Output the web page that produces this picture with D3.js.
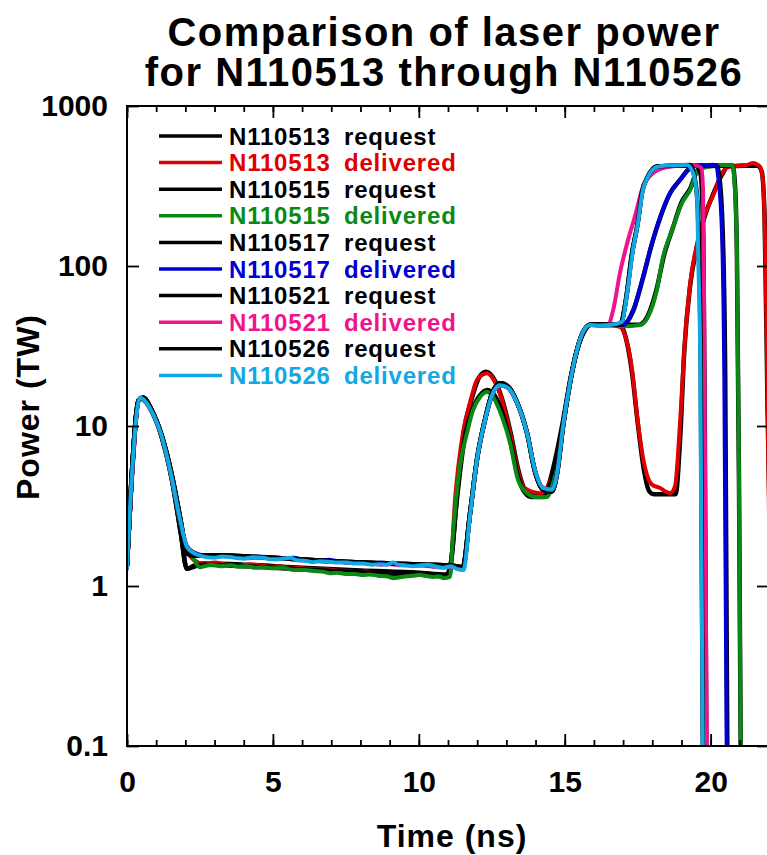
<!DOCTYPE html>
<html>
<head>
<meta charset="utf-8">
<script src="https://cdn.jsdelivr.net/npm/d3@7"></script>
<style>
    body { margin: 0; background: #fff; }
    svg text { font-family: "Liberation Sans", Arial, Helvetica, sans-serif; font-weight: bold; }
</style>
</head>
<body>
<div id="chart"></div>
<script>
// [time (ns), power (TW)]
const n110513Request = [
    [0,1.35],[0.15,4.5],[0.4,14.5],[0.55,15],[0.85,12.5],[1.2,8.4],[1.55,4.5],[1.85,2.1],[2.05,1.28],[2.3,1.34],
    [2.6,1.38],[4,1.36],[6,1.3],[8,1.25],[10,1.21],[10.95,1.18],[11.1,1.4],[11.3,3.6],[11.55,9.4],[11.8,14.5],
    [12.05,19.8],[12.3,21.8],[12.55,20],[12.85,14.8],[13.15,9],[13.4,5.4],[13.6,4.1],[13.8,3.75],[14.2,3.75],[14.45,4.3],
    [14.7,6.5],[14.95,11],[15.2,20],[15.45,31],[15.7,40],[15.9,43],[16.9,43],[17.05,38],[17.3,22],[17.5,10.5],
    [17.7,5.5],[17.9,3.9],[18.05,3.75],[18.8,3.75],[18.95,8],[19.1,30],[19.3,76],[19.55,136],[19.8,205],[20.1,285],
    [20.4,375],[20.6,420],[21.6,425],[21.75,390],[21.85,200],[21.95,13],[22.1,0.5]
];
const n110513Delivered = [
    [0,1.3],[0.15,4.2],[0.45,15],[0.85,12.3],[1.2,8.6],[1.53,4.8],[1.82,2.6],[2.05,1.7],[2.3,1.45],[2.6,1.38],
    [3.0,1.4],[3.4,1.36],[3.8,1.34],[4.2,1.37],[4.5,1.35],[4.9,1.32],[5.2,1.33],[5.6,1.3],[5.9,1.3],[6.2,1.28],
    [6.5,1.27],[6.9,1.27],[7.2,1.25],[7.6,1.24],[7.9,1.22],[8.2,1.23],[8.5,1.2],[8.9,1.2],[9.2,1.18],[9.5,1.19],
    [9.8,1.17],[10.1,1.18],[10.4,1.16],[10.7,1.15],[10.95,1.13],[11.07,1.2],[11.24,3.45],[11.51,9.0],[11.75,13.9],[11.99,19.4],
    [12.2,21],[12.34,21.4],[12.61,18.8],[12.85,14.5],[13.13,9.0],[13.37,5.5],[13.57,4.2],[13.91,3.87],[14.2,3.8],[14.45,4.3],
    [14.74,6],[14.94,9.9],[15.18,18.6],[15.42,29.9],[15.63,38.7],[15.87,42.8],[16.2,42.5],[16.55,42.8],[16.89,41.6],[17.14,33],
    [17.31,22.4],[17.51,10.4],[17.75,5.5],[17.99,4.3],[18.27,4.1],[18.45,3.9],[18.61,3.8],[18.78,4.2],[18.95,10.4],[19.12,34.5],
    [19.3,78],[19.54,139],[19.77,202],[20.12,286],[20.39,381],[20.63,416],[21.0,425],[21.25,428],[21.45,440],[21.69,416],
    [21.8,330],[21.93,30],[22.05,0.5]
];
const n110515Request = [
    [0,1.35],[0.15,4.5],[0.4,14.5],[0.55,15],[0.85,12.5],[1.2,8.4],[1.55,4.5],[1.85,2.1],[2.05,1.28],[2.3,1.32],
    [2.6,1.36],[4,1.33],[6,1.27],[8,1.22],[10,1.18],[10.95,1.15],[11.1,1.4],[11.3,3.4],[11.6,9],[11.85,12.8],
    [12.1,15.6],[12.35,16.8],[12.6,15.5],[12.9,11.5],[13.15,7.8],[13.4,4.8],[13.65,3.8],[13.85,3.6],[14.3,3.6],[14.5,4.3],
    [14.75,6.5],[14.95,10.5],[15.2,19.5],[15.45,31],[15.7,40],[15.9,43],[17.55,43],[17.85,49],[18.15,72],[18.4,116],
    [18.7,172],[19.0,250],[19.3,305],[19.55,395],[19.8,420],[20.75,425],[20.83,330],[20.9,120],[20.97,5],[21.04,0.05]
];
const n110515Delivered = [
    [0,1.3],[0.15,4.2],[0.45,14.8],[0.85,12.2],[1.2,8.5],[1.53,4.7],[1.82,2.5],[2.05,1.65],[2.26,1.5],[2.5,1.31],
    [2.9,1.36],[3.2,1.33],[3.53,1.35],[3.8,1.32],[4.1,1.33],[4.4,1.3],[4.66,1.31],[5.0,1.29],[5.3,1.3],[5.6,1.27],
    [5.83,1.26],[6.1,1.26],[6.4,1.24],[6.7,1.23],[6.96,1.2],[7.2,1.21],[7.5,1.19],[7.8,1.19],[8.09,1.17],[8.3,1.18],
    [8.6,1.16],[8.9,1.15],[9.12,1.12],[9.4,1.14],[9.6,1.15],[9.8,1.16],[10.04,1.17],[10.3,1.15],[10.5,1.14],[10.7,1.15],
    [10.83,1.12],[11.07,1.14],[11.17,2.1],[11.4,5.5],[11.65,9.0],[11.86,12.6],[12.1,15.2],[12.34,16.3],[12.54,15.2],[12.85,11.4],
    [13.13,7.8],[13.4,4.6],[13.71,3.8],[14.0,3.6],[14.39,3.6],[14.6,4.4],[14.8,6.2],[14.94,9.9],[15.18,18.6],[15.42,29.9],
    [15.63,38.7],[15.87,42.8],[16.55,42.8],[17.0,42],[17.58,42.8],[17.85,48],[18.16,71],[18.37,114],[18.68,168],[19.02,248],
    [19.3,299],[19.57,398],[19.88,416],[20.3,428],[20.75,425],[20.82,330],[20.9,126],[20.97,5],[21.04,0.05]
];
const n110517Request = [
    [0,1.35],[0.15,4.5],[0.4,14.5],[0.55,15],[0.85,12.5],[1.2,8.6],[1.55,4.8],[1.85,2.5],[2.05,1.6],[2.3,1.55],
    [3,1.55],[5,1.5],[7,1.43],[9,1.38],[11.3,1.33],[11.5,1.3],[11.75,2.8],[12.0,6.3],[12.27,11],[12.54,16.5],
    [12.8,18.5],[13.06,17.6],[13.37,14],[13.71,9],[13.98,5.2],[14.26,4],[14.56,3.9],[14.74,5.1],[14.94,9.9],[15.18,18.6],
    [15.42,29.9],[15.63,38.7],[15.87,43],[17.0,43],[17.34,52],[17.68,84],[17.99,138],[18.27,200],[18.61,285],[18.95,345],
    [19.3,410],[19.6,425],[20.2,425],[20.3,360],[20.42,150],[20.5,20],[20.58,0.05]
];
const n110517Delivered = [
    [0,1.3],[0.15,4.2],[0.45,15],[0.85,12.3],[1.19,8.6],[1.53,4.8],[1.82,2.6],[2.05,1.78],[2.3,1.62],[2.5,1.57],
    [3.0,1.53],[3.3,1.56],[3.6,1.54],[3.9,1.51],[4.2,1.5],[4.5,1.53],[4.8,1.52],[5.1,1.49],[5.4,1.48],[5.7,1.5],
    [6.0,1.47],[6.3,1.45],[6.6,1.44],[6.9,1.46],[7.2,1.43],[7.5,1.41],[7.8,1.41],[8.1,1.4],[8.4,1.38],[8.7,1.4],
    [9.0,1.39],[9.3,1.37],[9.6,1.36],[9.9,1.37],[10.2,1.35],[10.5,1.33],[10.8,1.32],[11.2,1.34],[11.5,1.28],[11.75,2.7],
    [11.99,6.1],[12.27,10.9],[12.54,16.1],[12.78,18.0],[13.06,17.3],[13.37,13.9],[13.71,9.0],[13.98,5.3],[14.26,4.1],[14.56,4.0],
    [14.74,5.1],[14.94,9.9],[15.18,18.6],[15.42,29.9],[15.63,38.7],[15.87,42.8],[16.5,42.5],[17.0,43],[17.34,53],[17.68,85],
    [17.99,139],[18.27,202],[18.61,286],[18.95,345],[19.3,410],[19.64,428],[19.9,425],[20.08,430],[20.2,420],[20.26,360],
    [20.39,161],[20.47,20],[20.56,0.05]
];
const n110521Request = [
    [0,1.35],[0.15,4.5],[0.4,14.5],[0.55,15],[0.85,12.5],[1.2,8.6],[1.55,4.8],[1.85,2.5],[2.05,1.6],[2.3,1.55],
    [3,1.55],[5,1.5],[7,1.43],[9,1.38],[11.3,1.33],[11.5,1.3],[11.75,2.8],[12.0,6.3],[12.27,11],[12.54,16.5],
    [12.8,18.5],[13.06,17.6],[13.37,14],[13.71,9],[13.98,5.2],[14.26,4],[14.56,3.9],[14.74,5.1],[14.94,9.9],[15.18,18.6],
    [15.42,29.9],[15.63,38.7],[15.87,43],[16.9,43],[17.1,62],[17.3,118],[17.5,185],[17.65,290],[17.85,362],[18.15,418],
    [19.5,425],[19.65,380],[19.75,150],[19.8,10],[19.86,0.05]
];
const n110521Delivered = [
    [0,1.28],[0.15,4.0],[0.45,14.8],[0.85,12.3],[1.19,8.6],[1.53,4.8],[1.82,2.6],[2.05,1.76],[2.3,1.6],[2.5,1.55],
    [3.0,1.52],[3.3,1.54],[3.6,1.53],[3.9,1.5],[4.2,1.49],[4.5,1.52],[4.8,1.5],[5.1,1.47],[5.4,1.49],[5.7,1.46],
    [6.0,1.45],[6.3,1.46],[6.6,1.43],[6.9,1.42],[7.2,1.42],[7.5,1.4],[7.8,1.4],[8.1,1.39],[8.4,1.38],[8.7,1.36],
    [9.0,1.37],[9.3,1.35],[9.6,1.35],[9.9,1.34],[10.2,1.34],[10.5,1.32],[10.8,1.31],[11.2,1.32],[11.5,1.27],[11.75,2.7],
    [11.99,6.0],[12.27,10.8],[12.54,16.0],[12.78,17.9],[13.06,17.3],[13.37,13.9],[13.71,9.0],[13.98,5.3],[14.26,4.1],[14.56,4.0],
    [14.74,5.1],[14.94,9.9],[15.18,18.6],[15.42,29.9],[15.63,38.7],[15.87,42.8],[16.2,42.8],[16.48,43],[16.66,53],[16.89,90],
    [17.14,139],[17.4,202],[17.68,312],[18.03,381],[18.51,416],[19.19,428],[19.5,425],[19.68,410],[19.74,300],[19.78,40],
    [19.82,2],[19.88,0.05]
];
const n110526Request = [
    [0,1.35],[0.15,4.5],[0.4,14.5],[0.55,15],[0.85,12.5],[1.2,8.6],[1.55,4.8],[1.85,2.5],[2.05,1.6],[2.3,1.55],
    [3,1.55],[5,1.5],[7,1.43],[9,1.38],[11.3,1.33],[11.5,1.3],[11.75,2.8],[12.0,6.3],[12.27,11],[12.54,16.5],
    [12.8,18.5],[13.06,17.6],[13.37,14],[13.71,9],[13.98,5.2],[14.26,4],[14.56,3.9],[14.74,5.1],[14.94,9.9],[15.18,18.6],
    [15.42,29.9],[15.63,38.7],[15.87,43],[16.9,43],[17.1,62],[17.3,118],[17.5,185],[17.65,290],[17.85,362],[18.15,418],
    [19.3,428],[19.42,380],[19.55,250],[19.6,120],[19.66,25],[19.74,0.05]
];
const n110526Delivered = [
    [0,1.3],[0.12,3.5],[0.45,15],[0.85,12.3],[1.19,8.6],[1.53,4.8],[1.82,2.6],[2.05,1.76],[2.3,1.6],[2.5,1.55],
    [3.0,1.5],[3.25,1.53],[3.53,1.52],[3.8,1.49],[4.0,1.48],[4.3,1.51],[4.66,1.5],[4.9,1.47],[5.2,1.47],[5.59,1.5],
    [5.83,1.45],[6.1,1.44],[6.37,1.41],[6.6,1.43],[6.9,1.42],[7.2,1.4],[7.54,1.4],[7.8,1.38],[8.09,1.38],[8.4,1.36],
    [8.67,1.37],[8.9,1.36],[9.12,1.4],[9.3,1.36],[9.5,1.35],[9.8,1.33],[10.05,1.35],[10.3,1.36],[10.6,1.32],[10.83,1.3],
    [11.1,1.33],[11.3,1.28],[11.53,1.26],[11.75,2.7],[11.99,6.1],[12.27,10.9],[12.54,16.1],[12.78,18.0],[13.06,17.3],[13.37,13.9],
    [13.71,9.0],[13.98,5.3],[14.26,4.1],[14.56,4.0],[14.74,5.1],[14.94,9.9],[15.18,18.6],[15.42,29.9],[15.63,38.7],[15.87,42.8],
    [16.2,42.5],[16.55,42.8],[16.96,44.7],[17.14,67.8],[17.34,126],[17.51,186],[17.68,299],[17.85,360],[18.16,416],[18.51,425],
    [19.19,428],[19.4,381],[19.54,258],[19.57,126],[19.64,30],[19.74,0.05]
];

const shotNames = ["N110513", "N110515", "N110517", "N110521", "N110526"];
const deliveredColors = ["#e00000", "#0a8a14", "#0000d2", "#f0148c", "#12a8e4"];
const requestData = [n110513Request, n110515Request, n110517Request, n110521Request, n110526Request];
const deliveredData = [n110513Delivered, n110515Delivered, n110517Delivered, n110521Delivered, n110526Delivered];

const xMajorTicks = [0, 5, 10, 15, 20];
const xMinorTicks = [0, 1, 2, 3, 4, 5, 6, 7, 8, 9, 10, 11, 12, 13, 14, 15, 16, 17, 18, 19, 20, 21, 22];
const yTicks = [0.1, 1, 10, 100, 1000];
const yTickLabels = ["0.1", "1", "10", "100", "1000"];

class LaserPowerChart {
    constructor(parentElement) {
        this.parentElement = parentElement;

        // legend order: request then delivered for each shot
        this.series = [];
        shotNames.forEach((name, i) => {
            this.series.push({ shot: name, kind: "request", color: "#000", values: requestData[i] });
            this.series.push({ shot: name, kind: "delivered", color: deliveredColors[i], values: deliveredData[i] });
        });

        this.initVis();
    }

    initVis() {
        let vis = this;

        vis.margin = { top: 106, right: -2, bottom: 109, left: 127 };
        vis.width = 767 - vis.margin.left - vis.margin.right;
        vis.height = 855 - vis.margin.top - vis.margin.bottom;

        vis.root = d3.select("#" + vis.parentElement).append("svg")
            .attr("width", 767)
            .attr("height", 855);

        vis.svg = vis.root.append("g")
            .attr("transform", `translate(${vis.margin.left}, ${vis.margin.top})`);

        vis.x = d3.scaleLinear().domain([0, 22]).range([0, vis.width]);
        vis.y = d3.scaleLog().domain([0.1, 1000]).range([vis.height, 0]);

        vis.svg.append("clipPath").attr("id", "plotClip")
            .append("rect")
            .attr("width", vis.width)
            .attr("height", vis.height);

        // title, two lines
        vis.root.append("text")
            .attr("x", 444).attr("y", 46)
            .attr("text-anchor", "middle")
            .style("font-size", "40px")
            .style("letter-spacing", "1.5px")
            .text("Comparison of laser power");
        vis.root.append("text")
            .attr("x", 444).attr("y", 86)
            .attr("text-anchor", "middle")
            .style("font-size", "40px")
            .style("letter-spacing", "1.5px")
            .text("for N110513 through N110526");

        // axis titles
        vis.root.append("text")
            .attr("x", 452).attr("y", 847)
            .attr("text-anchor", "middle")
            .style("font-size", "32px")
            .style("letter-spacing", "1px")
            .text("Time (ns)");
        vis.root.append("text")
            .attr("transform", "translate(39, 407) rotate(-90)")
            .attr("text-anchor", "middle")
            .style("font-size", "32px")
            .style("letter-spacing", "1px")
            .text("Power (TW)");

        vis.line = d3.line()
            .x(d => vis.x(d[0]))
            .y(d => vis.y(d[1]))
            .curve(d3.curveMonotoneX);

        vis.updateVis();
    }

    updateVis() {
        let vis = this;

        vis.svg.append("g")
            .attr("clip-path", "url(#plotClip)")
            .selectAll(".trace")
            .data(vis.series)
            .join("path")
            .attr("class", "trace")
            .attr("d", d => vis.line(d.values))
            .attr("fill", "none")
            .attr("stroke", d => d.color)
            .attr("stroke-width", d => d.kind === "request" ? 4.5 : 4)
            .attr("stroke-linejoin", "round")
            .attr("stroke-linecap", "round");

        // axes: ticks point inward
        let styleAxis = g => {
            g.select(".domain").remove();
            g.selectAll("line").attr("stroke", "#000").attr("stroke-width", 1.8);
            g.selectAll("text").style("font-size", "30px").attr("fill", "#000");
        };

        vis.svg.append("g")
            .attr("transform", `translate(0, ${vis.height})`)
            .call(d3.axisBottom(vis.x).tickValues(xMinorTicks).tickSize(-6).tickFormat(""))
            .call(styleAxis);
        vis.svg.append("g")
            .attr("transform", `translate(0, ${vis.height})`)
            .call(d3.axisBottom(vis.x).tickValues(xMajorTicks).tickSize(-12).tickPadding(25).tickFormat(d3.format("d")))
            .call(styleAxis);
        vis.svg.append("g")
            .call(d3.axisTop(vis.x).tickValues(xMinorTicks).tickSize(-6).tickFormat(""))
            .call(styleAxis);
        vis.svg.append("g")
            .call(d3.axisTop(vis.x).tickValues(xMajorTicks).tickSize(-12).tickFormat(""))
            .call(styleAxis);
        vis.svg.append("g")
            .call(d3.axisLeft(vis.y).tickValues(yTicks).tickSize(-12).tickPadding(19)
                .tickFormat((d, i) => yTickLabels[i]))
            .call(styleAxis);
        vis.svg.append("g")
            .attr("transform", `translate(${vis.width}, 0)`)
            .call(d3.axisRight(vis.y).tickValues(yTicks).tickSize(-12).tickFormat(""))
            .call(styleAxis);

        // frame
        vis.svg.append("rect")
            .attr("width", vis.width)
            .attr("height", vis.height)
            .attr("fill", "none")
            .attr("stroke", "#000")
            .attr("stroke-width", 2);

        // legend
        let legend = vis.svg.append("g").attr("transform", "translate(32, 30)");
        let rows = legend.selectAll(".legend-row")
            .data(vis.series)
            .join("g")
            .attr("class", "legend-row")
            .attr("transform", (d, i) => `translate(0, ${i * 26.6})`);

        rows.append("line")
            .attr("x1", 0).attr("x2", 63)
            .attr("stroke", d => d.color)
            .attr("stroke-width", 3.5);
        rows.append("text")
            .attr("x", 70).attr("y", 8.5)
            .style("font-size", "24px")
            .style("letter-spacing", "0.8px")
            .attr("fill", d => d.color)
            .text(d => d.shot);
        rows.append("text")
            .attr("x", 185).attr("y", 8.5)
            .style("font-size", "24px")
            .style("letter-spacing", "0.8px")
            .attr("fill", d => d.color)
            .text(d => d.kind);
    }
}

new LaserPowerChart("chart");
</script>
</body>
</html>
